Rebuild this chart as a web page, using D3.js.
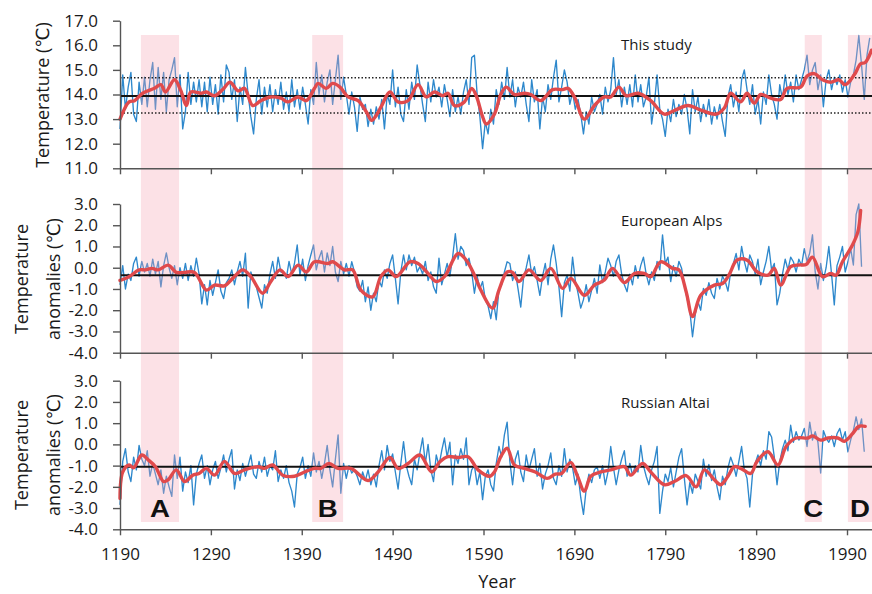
<!DOCTYPE html>
<html><head><meta charset="utf-8">
<script src="https://cdn.jsdelivr.net/npm/d3@7/dist/d3.min.js"></script>
<style>body{margin:0;background:#fff}svg{display:block}</style>
</head><body><svg id="chart" width="872" height="594"></svg>
<script>
// ---------------- DATA ----------------
const startYear = 1190;   // first year of the annual (sampled) series
const yearStep = 3;       // sampling step of the series below

const studyValues = [
12.6,14.8,13.4,14.3,14.9,13.2,12.9,14.5,13.6,14.7,
13.5,14.6,15.3,13.4,15.1,13.8,14.9,13.3,14.6,15.0,
15.5,13.5,14.8,12.6,13.3,14.9,13.6,14.5,13.7,14.6,
13.5,14.5,13.3,14.7,13.6,14.4,13.2,14.8,13.7,15.2,
14.9,13.8,14.6,12.9,14.3,13.6,15.1,14.0,13.1,12.4,
13.8,14.6,13.2,14.3,13.5,14.4,13.3,14.2,13.6,14.5,
13.4,14.1,13.3,14.6,13.5,14.2,13.4,14.3,13.6,12.8,
14.2,13.6,15.3,14.0,14.8,13.7,14.5,15.0,13.6,14.6,
15.6,13.8,14.7,14.0,13.2,14.1,13.5,12.5,13.9,13.4,
13.6,12.7,13.4,12.8,13.5,13.0,13.8,12.6,14.0,13.6,
15.0,13.5,14.3,13.2,12.9,14.2,13.4,14.5,13.8,15.2,
14.4,13.6,12.9,14.5,13.7,14.6,13.9,14.3,13.5,14.4,
13.8,13.1,14.2,13.3,13.9,13.2,14.1,14.6,13.6,15.5,
15.6,14.0,13.1,11.8,12.9,12.4,13.4,12.8,14.2,13.6,
14.5,13.8,15.1,13.9,14.6,13.5,14.3,13.9,14.5,13.6,
12.9,14.6,13.7,14.2,12.6,13.9,13.3,14.4,13.8,14.7,
15.4,13.7,14.3,15.0,14.5,13.6,14.1,13.4,13.8,13.2,
12.4,13.3,12.8,13.9,13.3,13.6,14.0,13.2,14.3,13.7,
14.2,15.5,14.0,14.6,13.5,14.3,13.6,14.4,13.5,14.8,
13.7,14.4,13.5,13.9,14.7,12.8,13.6,14.8,13.4,13.0,
12.3,13.4,12.9,13.8,13.1,13.6,13.2,14.0,13.4,12.4,
14.2,13.3,13.9,12.9,13.6,13.1,13.8,12.8,13.5,13.0,
13.6,12.9,12.3,13.9,14.4,13.5,14.1,13.3,14.6,15.0,
14.2,13.6,14.4,13.2,13.8,12.8,14.1,13.6,14.8,14.0,
13.6,13.0,14.4,13.8,14.8,14.0,14.5,13.7,14.8,14.2,
14.6,15.0,15.6,14.4,15.0,15.3,14.2,14.8,13.5,14.6,
15.0,14.2,14.7,14.4,14.8,14.1,14.6,13.9,14.5,14.8,
15.4,16.4,15.2,13.8,15.6,16.3
];

const alpsValues = [
-0.8,0.1,-1.0,-0.3,-0.6,0.2,0.5,-0.4,0.3,-0.2,
0.2,-0.4,0.4,-0.3,0.3,-0.9,0.1,0.7,0.0,-0.5,
0.1,-0.8,0.0,-0.5,0.2,-0.6,0.1,-0.4,0.45,-0.3,
-1.7,-0.8,-1.75,-0.6,-1.3,-0.7,-0.1,-1.1,-1.45,-0.7,
-0.5,-0.1,-0.8,-0.2,0.3,-0.4,0.68,-1.9,-0.2,-0.6,
-0.9,-1.4,-1.9,-0.8,-1.2,-0.3,0.3,-0.5,0.5,-0.2,
-0.2,-0.5,0.3,-0.3,0.2,1.07,-0.35,0.4,-0.6,0.1,
0.6,1.07,-0.1,0.45,0.8,-0.2,0.7,0.1,1.0,-0.2,
-0.65,0.3,-0.3,0.2,-0.4,0.28,-0.2,-0.9,-1.1,-0.6,
-1.6,-0.9,-2.0,-1.2,-1.6,-0.6,-0.9,-0.1,-0.5,0.2,
0.6,-0.5,-1.7,-0.2,0.6,-0.1,0.6,0.1,0.5,-0.2,
0.05,-0.3,0.3,-0.6,-0.2,-0.9,-1.2,0.45,-0.8,-0.3,
0.2,-0.4,0.5,1.6,0.4,1.0,0.8,0.1,0.45,-0.2,
-1.2,-0.4,-1.0,-0.65,-1.5,-1.8,-2.4,-1.6,-2.45,-1.0,
-0.8,-0.2,0.28,0.2,-0.6,-0.2,-1.0,-1.85,-0.5,0.0,
0.6,-0.3,0.05,-0.6,-1.3,-0.4,0.2,-0.8,0.4,1.07,
0.2,-0.9,-2.3,-0.7,-0.35,-1.1,0.5,-0.6,-1.2,-1.9,
-1.5,-0.8,-1.6,-1.05,-0.5,-1.2,0.13,-0.7,-0.2,0.45,
0.1,-0.4,0.3,0.6,-0.3,-0.8,-1.13,-0.3,-0.8,0.1,
-0.5,0.1,0.5,-0.3,-0.8,-0.2,-0.6,0.3,-0.1,1.55,
0.2,0.5,-0.65,0.1,-0.4,0.3,-0.03,-0.8,-1.45,-2.0,
-3.25,-2.2,-1.6,-2.0,-0.97,-1.3,-0.7,-1.2,-1.45,-0.5,
-1.0,-0.4,-0.65,-1.1,-0.2,0.2,0.67,-0.1,1.0,0.3,
-0.2,0.6,0.28,-0.3,0.4,-0.8,-0.2,0.3,1.0,-0.1,
0.2,-1.75,-1.2,-0.3,0.4,-0.1,0.5,0.28,-0.2,0.4,
0.1,0.9,0.3,0.7,1.55,-0.2,-1.0,0.2,-0.6,0.0,
1.0,-0.3,-1.75,0.1,0.5,1.0,-0.2,0.28,0.9,0.13,
2.5,3.0,0.05
];

const altaiValues = [
-2.85,-0.8,-0.2,-1.3,-1.75,-0.6,-1.2,-0.05,-0.7,-1.0,
-0.3,-1.5,-0.9,-1.4,-1.9,-1.2,-2.3,-1.5,-2.0,-2.45,
-0.5,-1.6,-0.6,-2.2,-1.3,-1.8,-1.0,-2.85,-1.4,-0.9,
-0.5,-1.6,-1.0,-1.9,-1.2,-0.8,-1.6,-1.1,-0.5,-1.3,
-0.7,-0.25,-2.1,-1.2,-1.7,-0.9,-1.5,-1.0,-0.5,-1.4,
-1.6,-0.8,-1.3,-0.6,-1.5,-1.0,-1.2,-0.3,-1.75,-1.2,
-1.6,-1.0,-1.8,-2.2,-2.95,-1.4,-1.1,-0.6,-1.6,-1.0,
-1.5,-0.4,-1.3,-0.8,-1.6,-0.9,-0.05,-1.2,-2.0,-0.7,
0.45,-2.3,-0.9,-1.6,-1.0,-1.35,-1.2,-1.5,-1.9,-1.3,
-1.7,-1.2,-1.9,-1.4,-2.0,-1.0,-0.3,-1.2,-0.05,-0.8,
-0.45,-1.3,-2.1,-0.9,0.13,-1.0,-1.5,-1.9,-0.7,-1.2,
-0.4,0.3,-0.9,0.0,-1.2,-1.75,-0.5,-1.0,-0.3,0.3,
-0.6,0.1,-1.9,-0.5,-0.9,-0.2,-0.7,0.3,-1.9,-1.2,
-1.0,-1.9,-1.3,-2.6,-1.5,-1.2,-1.9,-2.2,-0.9,-0.1,
-0.6,0.45,1.05,-0.8,-1.9,-0.7,-0.3,-1.3,-1.75,-0.5,
-1.2,-0.7,-0.2,-1.5,-0.9,-2.1,-1.4,-1.0,-0.4,-1.6,
-1.9,-1.0,-1.5,-0.2,-1.3,-0.7,-1.1,-1.9,-1.4,-2.5,
-3.3,-2.1,-1.4,-1.8,-1.2,-1.05,-1.6,-1.0,-1.9,-1.3,
-0.1,-1.1,-1.9,-1.2,-0.7,-0.3,-1.5,-0.9,-1.45,-1.0,
-1.3,-0.05,-1.0,-1.5,-1.9,-1.2,-0.8,-0.1,-3.25,-2.2,
-1.4,-1.75,-1.1,-2.0,-1.3,-0.6,-0.2,-1.6,-2.85,-1.8,
-2.3,-1.4,-1.75,-2.1,-0.7,-1.5,-0.95,-1.7,-1.2,-2.0,
-2.6,-1.5,-1.9,-1.1,-0.6,-0.97,-1.5,-0.8,-0.1,-1.2,
-1.6,-2.95,-1.4,-0.9,-0.5,-1.0,-0.3,-0.7,0.6,0.35,
-0.6,-1.9,-0.8,-0.2,0.2,-0.3,0.9,0.1,0.6,0.2,
0.4,0.75,-0.1,1.05,0.2,0.6,0.1,-1.35,0.65,0.3,
0.1,0.4,-0.1,0.5,0.75,0.2,0.6,-0.35,0.2,0.65,
1.3,0.7,1.2,-0.35
];

// smoothed curves: [year, value]
const studySmooth = [[1190,13.0],[1200,13.7],[1206,13.75],[1215,14.05],[1228,14.25],[1235,14.4],[1240,14.1],[1250,14.6],[1257,14.15],[1263,13.55],[1268,14.1],[1279,14.05],[1285,14.1],[1294,13.95],[1303,14.2],[1311,14.5],[1320,14.15],[1327,14.25],[1336,13.55],[1345,13.75],[1356,13.9],[1367,13.85],[1375,13.7],[1386,13.9],[1395,13.75],[1404,14.25],[1408,14.45],[1417,14.25],[1424,14.45],[1432,14.3],[1441,13.9],[1452,13.75],[1461,13.3],[1467,12.95],[1472,13.15],[1478,13.55],[1487,14.1],[1496,13.7],[1507,13.75],[1518,14.4],[1527,13.9],[1536,14.1],[1545,13.95],[1551,14.05],[1558,13.55],[1569,13.7],[1577,14.25],[1582,13.95],[1589,13.1],[1593,12.8],[1602,13.2],[1609,14.0],[1615,14.3],[1624,14.0],[1635,14.05],[1642,14.0],[1653,13.75],[1666,14.2],[1677,14.2],[1683,14.25],[1690,13.9],[1701,13.0],[1712,13.55],[1723,13.9],[1730,13.9],[1739,14.3],[1747,13.95],[1760,14.05],[1774,13.75],[1789,13.2],[1800,13.35],[1815,13.55],[1827,13.4],[1846,13.2],[1855,13.45],[1862,14.05],[1873,13.7],[1880,14.05],[1888,13.65],[1895,14.0],[1906,13.85],[1917,13.8],[1924,14.25],[1939,14.3],[1946,14.75],[1954,14.85],[1963,14.6],[1972,14.5],[1981,14.6],[1988,14.4],[1998,14.8],[2005,15.25],[2010,15.3],[2017,15.8]];

const alpsSmooth = [[1190,-0.6],[1200,-0.42],[1211,-0.1],[1218,-0.1],[1225,-0.03],[1232,-0.1],[1243,0.12],[1252,-0.22],[1261,-0.22],[1272,-0.22],[1285,-1.05],[1294,-0.82],[1305,-0.85],[1314,-0.5],[1325,-0.1],[1334,-0.42],[1347,-1.2],[1356,-0.65],[1366,-0.1],[1375,-0.42],[1386,0.12],[1395,-0.2],[1404,0.28],[1419,0.2],[1424,0.28],[1437,-0.1],[1446,-0.1],[1455,-1.05],[1468,-1.37],[1477,-0.42],[1485,-0.1],[1494,-0.42],[1509,0.28],[1518,0.2],[1529,-0.27],[1538,-0.65],[1547,-0.42],[1562,0.67],[1571,0.36],[1580,-0.35],[1587,-1.05],[1600,-1.9],[1607,-1.05],[1616,-0.2],[1622,-0.22],[1629,-0.65],[1640,-0.1],[1653,-0.6],[1664,-0.03],[1677,-0.97],[1686,-0.5],[1701,-1.3],[1712,-0.82],[1723,-0.58],[1732,-0.03],[1745,-0.7],[1756,-0.27],[1767,-0.27],[1774,-0.42],[1785,0.28],[1798,-0.03],[1805,-0.1],[1813,-1.13],[1820,-2.3],[1829,-1.3],[1844,-0.82],[1853,-0.74],[1860,-0.35],[1869,0.36],[1880,0.36],[1891,-0.19],[1903,-0.35],[1910,-0.03],[1917,-0.82],[1928,0.05],[1937,0.13],[1945,0.15],[1952,0.5],[1963,-0.42],[1972,-0.27],[1978,-0.35],[1985,0.28],[1996,1.07],[2002,1.7],[2005,2.7]];

const altaiSmooth = [[1190,-2.55],[1193,-1.3],[1200,-0.97],[1205,-1.1],[1214,-0.5],[1221,-0.73],[1229,-1.05],[1238,-1.75],[1243,-1.67],[1252,-1.2],[1261,-1.75],[1270,-1.45],[1277,-1.37],[1285,-1.13],[1294,-1.45],[1305,-0.8],[1316,-1.37],[1327,-1.2],[1342,-1.05],[1349,-1.13],[1358,-0.97],[1369,-1.45],[1382,-1.5],[1393,-1.3],[1404,-1.13],[1411,-1.13],[1420,-0.9],[1430,-1.13],[1444,-1.13],[1463,-1.7],[1474,-1.3],[1487,-0.62],[1496,-1.13],[1507,-0.9],[1520,-0.5],[1533,-1.3],[1542,-0.82],[1551,-0.58],[1562,-0.62],[1573,-0.58],[1584,-1.2],[1597,-1.5],[1602,-1.3],[1609,-0.58],[1616,-0.18],[1624,-0.97],[1635,-1.13],[1647,-1.3],[1660,-1.6],[1669,-1.4],[1676,-1.37],[1686,-0.85],[1693,-1.45],[1701,-2.2],[1708,-1.5],[1719,-1.3],[1730,-1.2],[1745,-1.05],[1752,-1.45],[1765,-0.9],[1774,-1.3],[1789,-1.9],[1800,-1.75],[1813,-1.47],[1824,-2.0],[1833,-1.2],[1844,-1.67],[1851,-1.9],[1859,-1.5],[1866,-1.05],[1873,-1.13],[1884,-1.37],[1891,-0.8],[1903,-0.35],[1914,-0.97],[1923,-0.1],[1934,0.3],[1947,0.3],[1952,0.4],[1961,0.2],[1969,0.3],[1980,0.3],[1987,0.15],[1996,0.5],[2003,0.85],[2010,0.85]];

const xTickYears = [1190,1290,1390,1490,1590,1690,1790,1890,1990];
const studyTicks = [11,12,13,14,15,16,17];
const anomalyTicks = [-4,-3,-2,-1,0,1,2,3];
const studyMean = 13.94, studyUpper = 14.68, studyLower = 13.25;
const alpsMean = -0.35;
const altaiMean = -1.05;
const periodLabels = ["A","B","C","D"];
const periodStart = [1213,1401.5,1943.5,1991];
const periodEnd   = [1255,1435.5,1962.3,2020];
const panelTitles = ["This study","European Alps","Russian Altai"];

// ---------------- DRAW ----------------
const svg = d3.select("#chart");
const FONT = "'Open Sans','DejaVu Sans',sans-serif";
const x = d3.scaleLinear().domain([1190, 2017.5]).range([120, 872]);

const panels = [
  {values: studyValues, smooth: studySmooth, domain:[11,17], range:[168.3,20.7], ticks: studyTicks, mean: studyMean, dotted:[studyUpper, studyLower], title: panelTitles[0], titleY: 50, ylab:["Temperature (℃)"], ylabY: 95},
  {values: alpsValues, smooth: alpsSmooth, domain:[-4,3], range:[352.7,204], ticks: anomalyTicks, mean: alpsMean, dotted:[], title: panelTitles[1], titleY: 226, ylab:["Temperature","anomalies (℃)"], ylabY: 279},
  {values: altaiValues, smooth: altaiSmooth, domain:[-4,3], range:[529.3,380.7], ticks: anomalyTicks, mean: altaiMean, dotted:[], title: panelTitles[2], titleY: 408, ylab:["Temperature","anomalies (℃)"], ylabY: 455}
];
panels.forEach(p => p.y = d3.scaleLinear().domain(p.domain).range(p.range));

const gBlue = svg.append("g");
const gShade = svg.append("g");
const gRef = svg.append("g");
const gRed = svg.append("g");
const gAxes = svg.append("g");
const gText = svg.append("g");

panels.forEach(p => {
  const line = d3.line().x((d,i) => x(startYear + i*yearStep)).y(d => p.y(d));
  gBlue.append("path").datum(p.values).attr("d", line)
    .attr("fill","none").attr("stroke","#2e88cc").attr("stroke-width",1.35).attr("stroke-linejoin","round");
});

// shaded periods
periodLabels.forEach((lab,i) => {
  const x0 = x(periodStart[i]), x1 = Math.min(x(periodEnd[i]), 872);
  gShade.append("rect").attr("x", x0).attr("y", 35).attr("width", x1 - x0).attr("height", 522 - 35)
    .attr("fill","#f7a3b3").attr("fill-opacity",0.33);
});

panels.forEach(p => {
  gRef.append("line").attr("x1", 120).attr("x2", 872).attr("y1", p.y(p.mean)).attr("y2", p.y(p.mean))
    .attr("stroke","#111").attr("stroke-width",2);
  p.dotted.forEach(v => {
    gRef.append("line").attr("x1", 120).attr("x2", 872).attr("y1", p.y(v)).attr("y2", p.y(v))
      .attr("stroke","#222").attr("stroke-width",1.5).attr("stroke-dasharray","1.5,2");
  });
  const sline = d3.line().curve(d3.curveCatmullRom.alpha(0.5)).x(d => x(d[0])).y(d => p.y(d[1]));
  gRed.append("path").datum(p.smooth).attr("d", sline)
    .attr("fill","none").attr("stroke","#e04a4c").attr("stroke-width",3.4).attr("stroke-linejoin","round").attr("stroke-linecap","round");
});

// axes
panels.forEach((p, idx) => {
  const ya = gAxes.append("g").attr("transform","translate(120,0)")
    .call(d3.axisLeft(p.y).tickValues(p.ticks).tickFormat(d => d.toFixed(1)).tickSize(7).tickSizeOuter(0).tickPadding(15));
  ya.selectAll("text").attr("font-family", FONT).attr("font-size", 17).attr("fill","#1a1a1a");
  ya.selectAll("line,path").attr("stroke","#555").attr("stroke-width",1.4);

  const xa = gAxes.append("g").attr("transform",`translate(0,${p.range[0]})`)
    .call(d3.axisBottom(x).tickValues(xTickYears).tickSize(6).tickSizeOuter(0).tickPadding(13)
      .tickFormat(idx === 2 ? d3.format("d") : () => ""));
  xa.selectAll("text").attr("font-family", FONT).attr("font-size", 17).attr("fill","#1a1a1a");
  xa.selectAll("line,path").attr("stroke","#555").attr("stroke-width",1.4);

  gText.append("text").attr("x", 621).attr("y", p.titleY).text(p.title)
    .attr("font-family", FONT).attr("font-size", 15).attr("fill","#1a1a1a");

  if (p.ylab.length === 1) {
    gText.append("text").attr("transform",`translate(43,${p.ylabY}) rotate(-90)`)
      .attr("text-anchor","middle").attr("dy","0.35em").text(p.ylab[0])
      .attr("font-family", FONT).attr("font-size", 18).attr("fill","#1a1a1a");
  } else {
    [22, 54].forEach((cx, k) => {
      gText.append("text").attr("transform",`translate(${cx},${p.ylabY}) rotate(-90)`)
        .attr("text-anchor","middle").attr("dy","0.35em").text(p.ylab[k])
        .attr("font-family", FONT).attr("font-size", 18).attr("fill","#1a1a1a");
    });
  }
});

gText.append("text").attr("x", 497).attr("y", 588).attr("text-anchor","middle").text("Year")
  .attr("font-family", FONT).attr("font-size", 18).attr("fill","#1a1a1a");

periodLabels.forEach((lab,i) => {
  const x0 = x(periodStart[i]), x1 = Math.min(x(periodEnd[i]), 872);
  gText.append("text").attr("transform",`translate(${(x0+x1)/2},517) scale(1.15,1)`)
    .attr("text-anchor","middle").text(lab)
    .attr("font-family","'Liberation Sans',Arial,sans-serif").attr("font-weight","bold").attr("font-size", 24).attr("fill","#111");
});
</script></body></html>
